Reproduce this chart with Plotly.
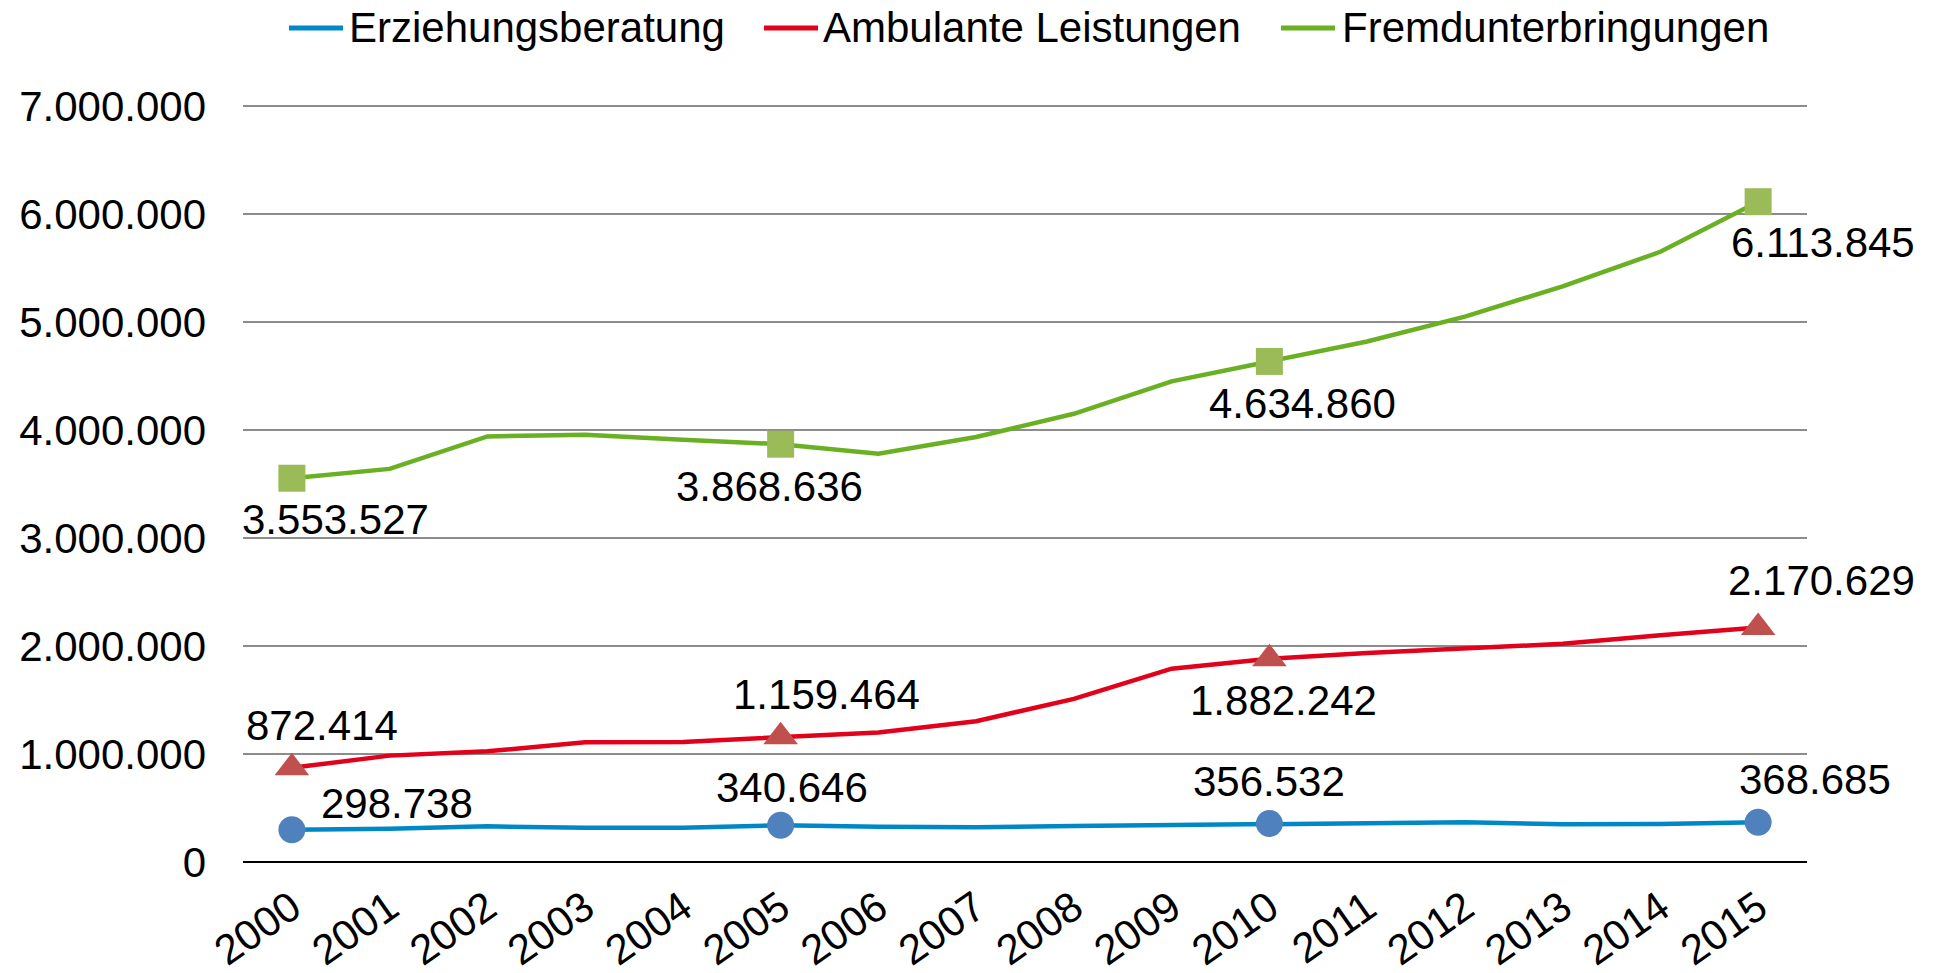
import plotly.graph_objects as go

# ── Daten ─────────────────────────────────────────────────────
years = [str(y) for y in range(2000, 2016)]

erziehungsberatung = [298738, 309000, 330000, 318000, 318000, 340646, 327000, 321000,
                      333000, 343000, 356532, 364000, 368000, 349000, 352000, 368685]
ambulante = [872414, 985000, 1025000, 1108000, 1111000, 1159464, 1200000, 1304000,
             1510000, 1790000, 1882242, 1935000, 1975000, 2020000, 2100000, 2170629]
fremd = [3553527, 3640000, 3940000, 3957000, 3910000, 3868636, 3780000, 3935000,
         4150000, 4450000, 4634860, 4820000, 5050000, 5330000, 5650000, 6113845]

marked = [0, 5, 10, 15]  # Punkte mit Marker + Wert

FONT = "Liberation Sans, Arial, sans-serif"

# Plotfläche in Pixel (für die selbstgebaute Legende)
W, H = 1937, 973
L_M, R_M, T_M, B_M = 243, 130, 103, 111
PW = W - L_M - R_M
PH = H - T_M - B_M


def fmt(v):
    return f"{v:,}".replace(",", ".")


def px_x(px):
    return (px - L_M) / PW


def px_y(py):
    return 1 + (T_M - py) / PH


series = [
    # name, werte, linienfarbe, markerfarbe, symbol, size, label-offsets (xshift, yshift),
    # legende (linie x0, x1, text x)
    ("Erziehungsberatung", erziehungsberatung, "#0088c6", "#4f81bd", "circle", 27,
     [(105, 26), (11, 38), (0, 42), (57, 43)], (289, 343, 347)),
    ("Ambulante Leistungen", ambulante, "#e2001a", "#c0504d", "triangle-up", 30,
     [(30, 42), (46, 42), (14, -42), (63, 47)], (764, 818, 821)),
    ("Fremdunterbringungen", fremd, "#6ab023", "#9bbb59", "square", 27,
     [(44, -41), (-11, -42), (33, -42), (65, -41)], (1281, 1335, 1340)),
]

fig = go.Figure()
annotations = []
shapes = []
LEG_Y = 28

for name, vals, lcol, mcol, sym, msize, offs, leg in series:
    fig.add_trace(go.Scatter(
        x=years, y=vals, name=name, mode="lines",
        line=dict(color=lcol, width=4.5), showlegend=False,
    ))
    fig.add_trace(go.Scatter(
        x=[years[i] for i in marked], y=[vals[i] for i in marked],
        mode="markers", showlegend=False,
        marker=dict(color=mcol, symbol=sym, size=msize),
    ))
    # Werte-Beschriftungen
    for (dx, dy), i in zip(offs, marked):
        annotations.append(dict(
            x=i, y=vals[i], xref="x", yref="y",
            text=fmt(vals[i]), showarrow=False,
            xshift=dx, yshift=dy, xanchor="center", yanchor="middle",
            font=dict(size=42, color="black", family=FONT),
        ))
    # Legende
    lx0, lx1, tx = leg
    shapes.append(dict(
        type="line", xref="paper", yref="paper",
        x0=px_x(lx0), x1=px_x(lx1), y0=px_y(LEG_Y), y1=px_y(LEG_Y),
        line=dict(color=lcol, width=5),
    ))
    annotations.append(dict(
        x=px_x(tx), y=px_y(LEG_Y), xref="paper", yref="paper",
        text=name, showarrow=False, xanchor="left", yanchor="middle",
        font=dict(size=42, color="black", family=FONT),
    ))

fig.update_layout(
    width=W, height=H,
    paper_bgcolor="white", plot_bgcolor="white",
    font=dict(family=FONT, size=42, color="black"),
    separators=",.",
    margin=dict(l=L_M, r=R_M, t=T_M, b=B_M, autoexpand=False),
    showlegend=False,
    annotations=annotations,
    shapes=shapes,
)

fig.update_yaxes(
    range=[0, 7027800], tickvals=[i * 1000000 for i in range(8)], tickformat=",d",
    showgrid=True, gridcolor="#8c8c8c", gridwidth=1.5,
    zeroline=True, zerolinecolor="black", zerolinewidth=1.5,
    showline=False, ticks="", ticklabelstandoff=36,
)
fig.update_xaxes(
    type="category", range=[-0.5, 15.5], tickangle=-35,
    showgrid=False, showline=False, zeroline=False, ticks="",
    ticklabelstandoff=12,
)

fig.write_html("out.html", config={"displayModeBar": False},
               post_script="document.body.style.margin='0px';")
